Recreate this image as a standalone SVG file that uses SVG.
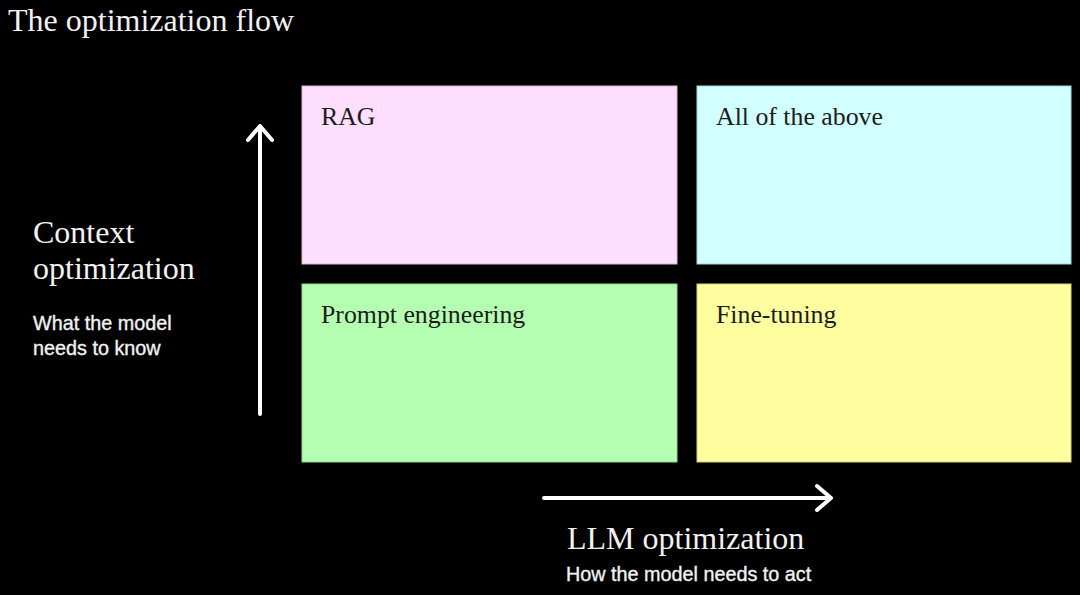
<svg xmlns="http://www.w3.org/2000/svg" width="1080" height="595" viewBox="0 0 1080 595">
<style>
.serif{font-family:"Liberation Serif","Times New Roman",serif;}
.sans{font-family:"Liberation Sans",Arial,sans-serif;fill:#f2f2f2;font-size:19.8px;stroke:#f2f2f2;stroke-width:0.35px;}
.head{fill:#f2f2f2;font-size:32px;}
.lbl{fill:#1c1c1c;font-size:25.8px;}
.box{stroke-width:1;}
.axis{fill:none;stroke:#ffffff;stroke-width:4;stroke-linecap:round;stroke-linejoin:round;}
</style>
<rect x="0" y="0" width="1080" height="595" fill="#000000"/>
<text class="serif head" x="8" y="31">The optimization flow</text>
<g id="rag">
<rect class="box" x="302" y="86" width="375" height="178" fill="#ffdffd" stroke="#d9b8d8"/>
<text class="serif lbl" x="321" y="125">RAG</text>
</g>
<g id="all">
<rect class="box" x="697" y="86" width="374" height="178" fill="#d2ffff" stroke="#a9d8d8"/>
<text class="serif lbl" x="716" y="125">All of the above</text>
</g>
<g id="prompt">
<rect class="box" x="302" y="284" width="375" height="178" fill="#b4ffb1" stroke="#8fd48c"/>
<text class="serif lbl" x="321" y="323">Prompt engineering</text>
</g>
<g id="finetune">
<rect class="box" x="697" y="284" width="374" height="178" fill="#ffffa0" stroke="#d4d47c"/>
<text class="serif lbl" x="716" y="323">Fine-tuning</text>
</g>
<g id="context-axis">
<text class="serif head" x="33" y="243">Context</text>
<text class="serif head" x="33" y="279">optimization</text>
<text class="sans" x="33" y="330">What the model</text>
<text class="sans" x="33" y="355">needs to know</text>
</g>
<g id="llm-axis">
<text class="serif head" x="567" y="549">LLM optimization</text>
<text class="sans" x="566" y="581">How the model needs to act</text>
</g>
<g id="connectors">
<path class="axis" d="M260 414 V126 M248 140 L260 126 L272 140"/>
<path class="axis" d="M544 498 H831 M817 486 L831 498 L817 510"/>
</g>
</svg>
